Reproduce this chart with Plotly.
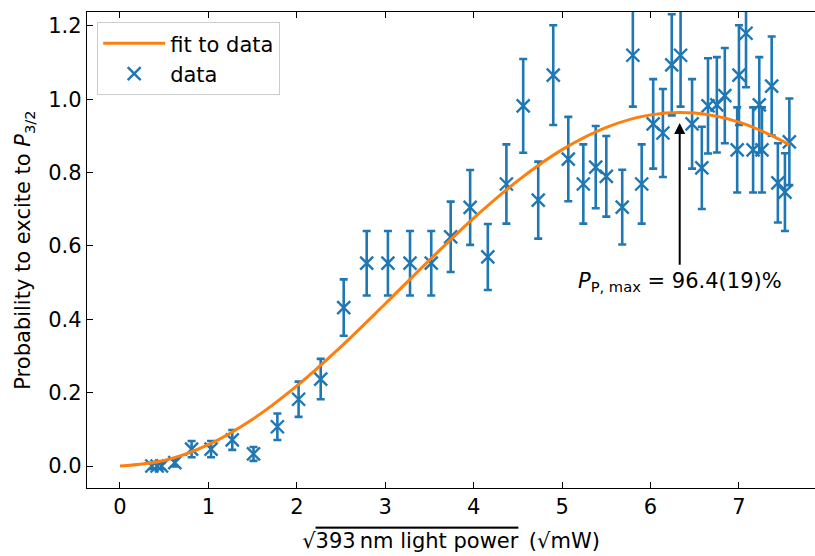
import plotly.graph_objects as go

# measured data: sqrt(power) in sqrt(mW), excitation probability, 1-sigma error
x_data = [0.36, 0.42, 0.47, 0.62, 0.81, 1.03, 1.27, 1.51, 1.78, 2.02,
          2.27, 2.53, 2.79, 3.03, 3.28, 3.52, 3.74, 3.96, 4.16, 4.37,
          4.56, 4.73, 4.90, 5.07, 5.24, 5.38, 5.50, 5.68, 5.80, 5.90,
          6.03, 6.14, 6.24, 6.34, 6.47, 6.58, 6.65, 6.75, 6.84, 6.98,
          7.00, 7.08, 7.16, 7.23, 7.26, 7.37, 7.44, 7.52, 7.57]
y_data = [0.000, 0.000, 0.000, 0.009, 0.046, 0.046, 0.071, 0.033, 0.107, 0.182,
          0.237, 0.432, 0.553, 0.553, 0.553, 0.553, 0.625, 0.705, 0.570, 0.769,
          0.982, 0.725, 1.066, 0.837, 0.769, 0.815, 0.790, 0.706, 1.120, 0.769,
          0.933, 0.908, 1.094, 1.120, 0.933, 0.813, 0.982, 0.985, 1.010, 0.862,
          1.066, 1.180, 0.862, 0.985, 0.862, 1.036, 0.772, 0.747, 0.884]
y_err = [0.008, 0.008, 0.008, 0.010, 0.022, 0.022, 0.027, 0.019, 0.036, 0.048,
         0.055, 0.077, 0.088, 0.088, 0.088, 0.088, 0.096, 0.102, 0.090, 0.108,
         0.128, 0.105, 0.136, 0.115, 0.108, 0.112, 0.110, 0.102, 0.140, 0.108,
         0.122, 0.120, 0.138, 0.140, 0.122, 0.112, 0.130, 0.130, 0.130, 0.116,
         0.136, 0.147, 0.116, 0.130, 0.116, 0.135, 0.108, 0.106, 0.118]

# fit curve
x_fit = [0.0, 0.5, 1.0, 1.5, 2.0, 2.5, 3.0, 3.5, 4.0, 4.5, 5.0, 5.5, 6.0, 6.5, 7.0, 7.5, 7.57]
y_fit = [0.0, 0.0148, 0.0581, 0.1275, 0.2185, 0.3256, 0.4424, 0.5615, 0.676, 0.7782,
         0.8627, 0.9236, 0.9575, 0.9623, 0.9376, 0.8853, 0.8755]

x_ticks = [0, 1, 2, 3, 4, 5, 6, 7]
y_ticks = [0.0, 0.2, 0.4, 0.6, 0.8, 1.0, 1.2]

peak_x = 6.33
peak_y = 0.935
arrow_tail_y = 0.545
label_text = "<i>P</i><sub>P, max</sub> = 96.4(19)%"

BLUE = "#1f77b4"
ORANGE = "#ff7f0e"
FONT = "DejaVu Sans"
FS = 21

fig = go.Figure()
fig.add_trace(go.Scatter(
    x=x_data, y=y_data, mode="markers", name="data", legendrank=2,
    marker=dict(symbol="x-thin", size=13, color=BLUE, line=dict(width=2.4, color=BLUE)),
    error_y=dict(type="data", array=y_err, visible=True, color=BLUE, thickness=2.6, width=4),
))
fig.add_trace(go.Scatter(
    x=x_fit, y=y_fit, mode="lines", name="fit to data", legendrank=1,
    line=dict(color=ORANGE, width=3, shape="spline", smoothing=1.0),
))

fig.add_annotation(
    x=peak_x, y=peak_y, ax=peak_x, ay=arrow_tail_y, xref="x", yref="y",
    axref="x", ayref="y", text="", showarrow=True,
    arrowhead=2, arrowsize=1.1, arrowwidth=2, arrowcolor="black",
)
fig.add_annotation(
    x=peak_x, y=arrow_tail_y, xref="x", yref="y", text=label_text,
    showarrow=False, yanchor="top", yshift=-1,
    font=dict(family=FONT, size=FS, color="black"),
)

fig.update_layout(
    width=815, height=556,
    margin=dict(l=87, r=0, t=12, b=68),
    paper_bgcolor="white", plot_bgcolor="white",
    font=dict(family=FONT, size=FS, color="black"),
    showlegend=True,
    legend=dict(
        x=0.0137, y=0.979, xanchor="left", yanchor="top",
        bgcolor="rgba(255,255,255,0.8)", bordercolor="#cccccc", borderwidth=1.2,
        font=dict(family=FONT, size=FS, color="black"),
        traceorder="normal", itemwidth=62,
    ),
    xaxis=dict(
        range=[-0.373, 7.860], tickvals=x_ticks, ticktext=[str(v) for v in x_ticks],
        ticks="inside", ticklen=6, tickwidth=1.2, tickcolor="black",
        showline=True, linecolor="black", linewidth=1.4, mirror="ticks",
        showgrid=False, zeroline=False,
        tickfont=dict(family=FONT, size=FS),
        title=dict(text='√<span style="text-decoration:overline">393\u2009nm light power</span>\u2002(√mW)',
                   font=dict(family=FONT, size=FS), standoff=14),
    ),
    yaxis=dict(
        range=[-0.060, 1.238], tickvals=y_ticks, ticktext=[f"{v:.1f}" for v in y_ticks],
        ticks="inside", ticklen=6, tickwidth=1.2, tickcolor="black",
        showline=True, linecolor="black", linewidth=1.4, mirror=False,
        showgrid=False, zeroline=False,
        tickfont=dict(family=FONT, size=FS),
        title=dict(text="Probability to excite to <i>P</i><sub>3/2</sub>",
                   font=dict(family=FONT, size=FS), standoff=11),
    ),
)

fig.write_html("out.html")
